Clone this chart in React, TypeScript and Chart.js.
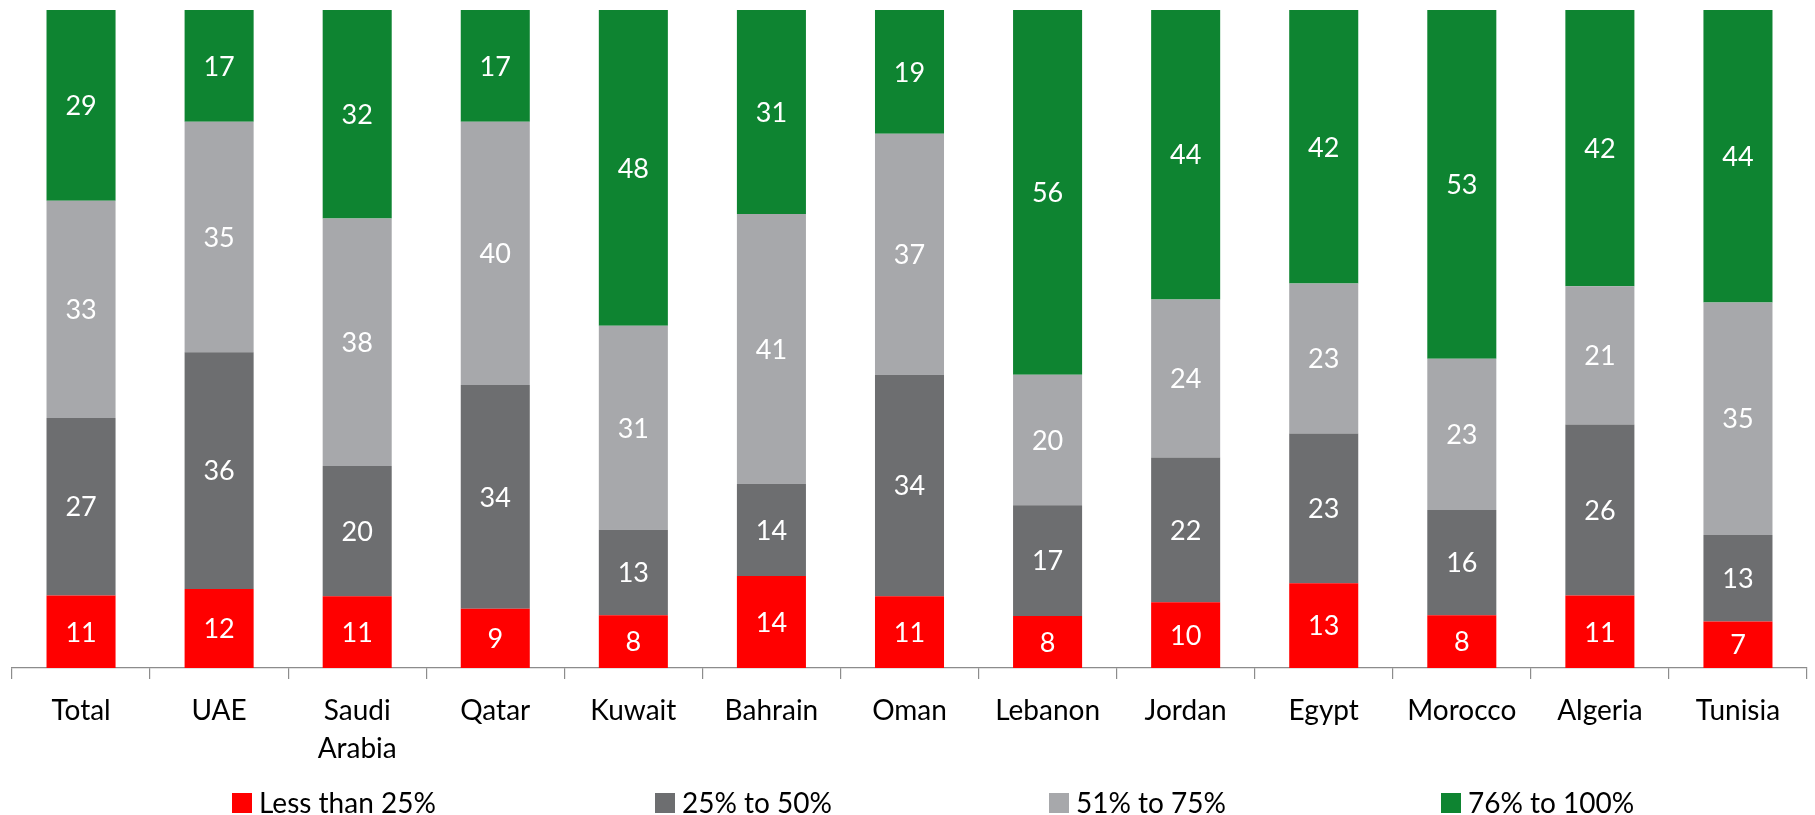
import React, { useEffect, useRef } from "react";
import { Chart, registerables } from "chart.js";

Chart.register(...registerables);

const categories: (string | string[])[] = [
  "Total", "UAE", ["Saudi", "Arabia"], "Qatar", "Kuwait", "Bahrain", "Oman",
  "Lebanon", "Jordan", "Egypt", "Morocco", "Algeria", "Tunisia",
];
const lessThan25 = [11, 12, 11, 9, 8, 14, 11, 8, 10, 13, 8, 11, 7];
const from25to50 = [27, 36, 20, 34, 13, 14, 34, 17, 22, 23, 16, 26, 13];
const from51to75 = [33, 35, 38, 40, 31, 41, 37, 20, 24, 23, 23, 21, 35];
const from76to100 = [29, 17, 32, 17, 48, 31, 19, 56, 44, 42, 53, 42, 44];
const seriesNames = ["Less than 25%", "25% to 50%", "51% to 75%", "76% to 100%"];
const seriesColors = ["#FF0000", "#6D6E70", "#A7A8AB", "#0E8431"];

const FONT = "Lato, 'Open Sans', sans-serif";

export default function App() {
  const ref = useRef<HTMLCanvasElement | null>(null);

  useEffect(() => {
    document.body.style.margin = "0";
    const raw = [lessThan25, from25to50, from51to75, from76to100];
    const totals = categories.map((_, i) => raw.reduce((s, a) => s + a[i], 0));
    const pct = raw.map((arr) => arr.map((v, i) => (v / totals[i]) * 100));

    const labelPlugin = {
      id: "segLabels",
      afterDatasetsDraw(chart: any) {
        const ctx = chart.ctx;
        ctx.save();
        ctx.fillStyle = "#ffffff";
        ctx.font = `27px ${FONT}`;
        ctx.textAlign = "center";
        ctx.textBaseline = "middle";
        chart.data.datasets.forEach((ds: any, di: number) => {
          const meta = chart.getDatasetMeta(di);
          meta.data.forEach((bar: any, i: number) => {
            const y = (bar.y + bar.base) / 2;
            ctx.fillText(String(raw[di][i]), bar.x, y + 1);
          });
        });
        ctx.restore();
      },
    };

    const legendPlugin = {
      id: "customLegend",
      afterDraw(chart: any) {
        const ctx = chart.ctx;
        const w = chart.width;
        const fr = [232 / 1815, 655 / 1815, 1049 / 1815, 1441 / 1815];
        ctx.save();
        ctx.font = `28px ${FONT}`;
        ctx.textBaseline = "middle";
        ctx.textAlign = "left";
        const cy = 803;
        seriesNames.forEach((name, k) => {
          const x = fr[k] * w;
          ctx.fillStyle = seriesColors[k];
          ctx.fillRect(x, cy - 10, 20, 20);
          ctx.fillStyle = "#000000";
          ctx.fillText(name, x + 27, cy + 1);
        });
        ctx.restore();
      },
    };

    const chart = new Chart(ref.current as HTMLCanvasElement, {
      type: "bar",
      data: {
        labels: categories,
        datasets: seriesNames.map((name, k) => ({
          label: name,
          data: pct[k],
          backgroundColor: seriesColors[k],
          borderWidth: 0,
          barPercentage: 0.5,
          categoryPercentage: 1,
        })),
      },
      options: {
        animation: false,
        responsive: false,
        maintainAspectRatio: false,
        layout: { padding: { left: 12, right: 8, top: 10, bottom: 40 } },
        plugins: {
          legend: { display: false },
          tooltip: { enabled: false },
        },
        scales: {
          x: {
            stacked: true,
            grid: {
              offset: true,
              drawOnChartArea: false,
              drawTicks: true,
              tickLength: 11,
              color: "#8C8C8C",
              lineWidth: 1.2,
            },
            border: { display: true, color: "#8C8C8C", width: 1.2 },
            ticks: {
              color: "#000000",
              font: { family: FONT, size: 28, lineHeight: 1.36 },
              padding: 13,
              maxRotation: 0,
              autoSkip: false,
            },
            afterFit: (scale: any) => {
              scale.height = 107;
            },
          },
          y: {
            stacked: true,
            display: false,
            min: 0,
            max: 100,
          },
        },
      },
      plugins: [labelPlugin, legendPlugin],
    });
    return () => chart.destroy();
  }, []);

  return (
    <div style={{ width: 1815, height: 815, background: "#fff" }}>
      <canvas ref={ref} width={1815} height={815} style={{ display: "block" }} />
    </div>
  );
}
